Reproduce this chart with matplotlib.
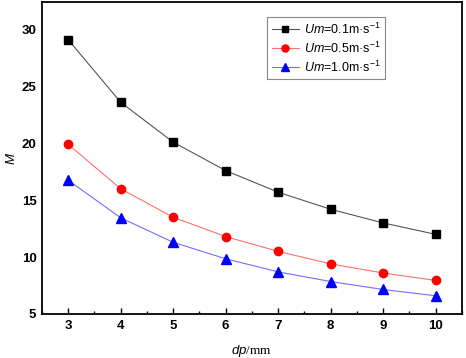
import matplotlib.pyplot as plt
from matplotlib.ticker import MultipleLocator

plt.rcParams['font.family'] = ['Liberation Sans', 'DejaVu Sans']
plt.rcParams['mathtext.fontset'] = 'custom'
plt.rcParams['mathtext.rm'] = 'Liberation Serif'
plt.rcParams['mathtext.it'] = 'Liberation Sans:italic'

dp = [3, 4, 5, 6, 7, 8, 9, 10]
m_01 = [29.1, 23.6, 20.1, 17.6, 15.7, 14.2, 13.0, 12.0]
m_05 = [19.9, 16.0, 13.5, 11.8, 10.5, 9.4, 8.6, 7.95]
m_10 = [16.75, 13.45, 11.3, 9.85, 8.7, 7.85, 7.15, 6.6]
labels = [r'$\mathit{Um}$=0.1m·s$^{\mathregular{-1}}$',
          r'$\mathit{Um}$=0.5m·s$^{\mathregular{-1}}$',
          r'$\mathit{Um}$=1.0m·s$^{\mathregular{-1}}$']

fig = plt.figure(figsize=(4.66, 3.58), dpi=100)
ax = fig.add_axes([0.090, 0.123, 0.901, 0.871])

ax.plot(dp, m_01, color='#555555', lw=0.8, marker='s', ms=5.5,
        mfc='black', mec='black', label=labels[0])
ax.plot(dp, m_05, color='#ff7070', lw=0.8, marker='o', ms=6,
        mfc='red', mec='red', label=labels[1])
ax.plot(dp, m_10, color='#7070ff', lw=0.8, marker='^', ms=6.5,
        mfc='blue', mec='blue', label=labels[2])

ax.set_xlim(2.5, 10.5)
ax.set_ylim(5, 32.4)
ax.xaxis.set_major_locator(MultipleLocator(1))
ax.xaxis.set_minor_locator(MultipleLocator(0.5))
ax.yaxis.set_major_locator(MultipleLocator(5))
ax.tick_params(axis='x', which='major', direction='in', length=4, width=1, pad=4)
ax.tick_params(axis='x', which='minor', direction='in', length=2, width=1)
ax.tick_params(axis='y', which='major', length=0, pad=4)
for lab in ax.get_xticklabels() + ax.get_yticklabels():
    lab.set_fontweight('bold')
    lab.set_fontsize(9.5)

for s in ax.spines.values():
    s.set_linewidth(1.3)

ax.set_ylabel('M', fontstyle='italic', fontsize=9.5, labelpad=3)
ax.set_xlabel(r'$\mathit{dp}/\mathrm{mm}$', fontsize=9.5, labelpad=8)

leg = ax.legend(loc='upper left', bbox_to_anchor=(0.522, 0.972), fontsize=9,
                fancybox=False, edgecolor='#888888', framealpha=1,
                handlelength=2.2, borderpad=0.35, labelspacing=0.3,
                handletextpad=0.4, markerscale=0.85)
leg.get_frame().set_linewidth(0.8)

fig.savefig('out.png', dpi=100)
